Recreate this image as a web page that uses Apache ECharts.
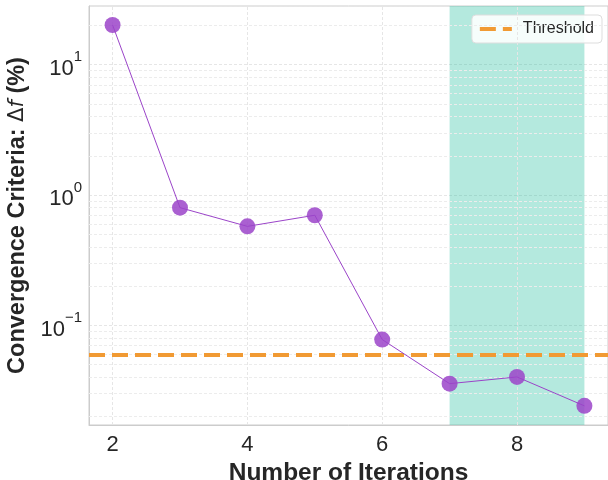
<!DOCTYPE html>
<html><head><meta charset="utf-8">
<script src="https://cdn.jsdelivr.net/npm/echarts@6/dist/echarts.min.js"></script>
<style>html,body{margin:0;padding:0;background:#fff}#c{width:608px;height:480px}</style>
</head><body><div id="c"></div>
<script>
const iterations = [2, 3, 4, 5, 6, 7, 8, 9];
const deltaF = [20.1, 0.80, 0.575, 0.70, 0.078, 0.0358, 0.0403, 0.0242];
const threshold = 0.06;
const shadeRange = [7, 9];
const xTicks = [2, 4, 6, 8];
const yTickExponents = [-1, 0, 1];
const xAxisTitle = 'Number of Iterations';
const legendLabel = 'Threshold';

const X_MIN = 1.65, X_MAX = 9.35;
const Y_MIN = Math.pow(10, -1.763), Y_MAX = Math.pow(10, 1.449);
const FONT = "'Liberation Sans', Arial, sans-serif";
const PURPLE = '#9b44c9';
const ORANGE = '#f19a33';
const TEXT = '#262626';
const GRIDC = '#e6e6e6';

const minorVals = [];
for (let e = -2; e <= 1; e++) {
  for (let k = 2; k <= 9; k++) {
    const v = k * Math.pow(10, e);
    if (v > Y_MIN && v < Y_MAX) minorVals.push(v);
  }
}

const chart = echarts.init(document.getElementById('c'), null, {renderer: 'canvas'});
chart.setOption({
  animation: false,
  backgroundColor: '#ffffff',
  grid: {left: 89, right: 0, top: 6, bottom: 55, show: true, borderColor: '#cccccc', borderWidth: 1,
    containLabel: false, outerBoundsMode: 'none'},
  legend: {
    data: [legendLabel], right: 6, top: 15,
    itemWidth: 32, itemHeight: 14,
    padding: [6, 8, 6, 6],
    backgroundColor: 'rgba(255,255,255,0.88)', borderColor: '#dddddd', borderWidth: 1, borderRadius: 4,
    itemStyle: {opacity: 0},
    lineStyle: {color: ORANGE, width: 4, type: [16, 7], opacity: 1},
    textStyle: {fontFamily: FONT, fontSize: 16, color: TEXT, padding: [0, 0, 0, 6]}
  },
  xAxis: {
    type: 'value', min: X_MIN, max: X_MAX,
    name: xAxisTitle, nameLocation: 'middle', nameGap: 33,
    nameTextStyle: {fontFamily: FONT, fontSize: 24.5, fontWeight: 'bold', color: TEXT},
    axisLine: {show: true, lineStyle: {color: '#cccccc', width: 1}},
    axisTick: {show: false},
    axisLabel: {fontFamily: FONT, fontSize: 22, color: TEXT, margin: 9, customValues: xTicks,
      formatter: v => String(Math.round(v))},
    splitLine: {show: false}
  },
  yAxis: {
    type: 'log', logBase: 10, min: Y_MIN, max: Y_MAX,
    name: '{b|Convergence Criteria: }{m|Δ}{i|f}{b| (%)}', nameLocation: 'middle', nameGap: 42, nameRotate: 90,
    nameTextStyle: {fontFamily: FONT, fontSize: 23.5, color: TEXT,
      rich: {
        b: {fontFamily: FONT, fontSize: 23.5, fontWeight: 'bold', color: TEXT},
        m: {fontFamily: "'DejaVu Sans', sans-serif", fontSize: 21, color: TEXT},
        i: {fontFamily: "'DejaVu Sans', sans-serif", fontSize: 21, fontStyle: 'italic', color: TEXT}
      }},
    axisLine: {show: true, lineStyle: {color: '#cccccc', width: 1}},
    axisTick: {show: false},
    axisLabel: {
      margin: 7,
      formatter: v => {
        const e = Math.log10(v);
        const r = Math.round(e);
        if (Math.abs(e - r) > 1e-6 || !yTickExponents.includes(r)) return '';
        return '{b|10}{s|' + String(r).replace('-', '\u2212') + '}';
      },
      rich: {
        b: {fontFamily: FONT, fontSize: 22, color: TEXT, lineHeight: 30, verticalAlign: 'bottom'},
        s: {fontFamily: FONT, fontSize: 15, color: TEXT, lineHeight: 30, verticalAlign: 'top'}
      }
    },
    splitLine: {show: true, lineStyle: {color: GRIDC, type: [3, 2], width: 1}}
  },
  series: [
    {
      name: 'grid-minor', type: 'line', data: [], z: 1, silent: true,
      markLine: {silent: true, symbol: 'none', label: {show: false},
        lineStyle: {color: '#ececec', type: [3, 2], width: 1},
        emphasis: {disabled: true},
        data: minorVals.map(v => ({yAxis: v})).concat(xTicks.map(v => ({xAxis: v, lineStyle: {color: GRIDC, type: [3, 2], width: 1}})))},
      markArea: {silent: true, itemStyle: {color: 'rgba(26,188,156,0.33)'},
        data: [[{xAxis: shadeRange[0]}, {xAxis: shadeRange[1]}]]}
    },
    {
      name: legendLabel, type: 'line', data: [], z: 4, symbol: 'none',
      itemStyle: {color: ORANGE},
      lineStyle: {color: ORANGE, width: 4, type: [16, 7]},
      markLine: {silent: true, symbol: 'none', label: {show: false},
        lineStyle: {color: ORANGE, width: 4, type: [16, 7], opacity: 1},
        emphasis: {disabled: true},
        data: [{yAxis: threshold}]}
    },
    {
      name: 'delta', type: 'line', z: 5,
      data: iterations.map((x, i) => [x, deltaF[i]]),
      symbol: 'circle', symbolSize: 16,
      itemStyle: {color: PURPLE, opacity: 0.85, borderWidth: 0},
      lineStyle: {color: PURPLE, width: 1}
    }
  ]
});
</script></body></html>
